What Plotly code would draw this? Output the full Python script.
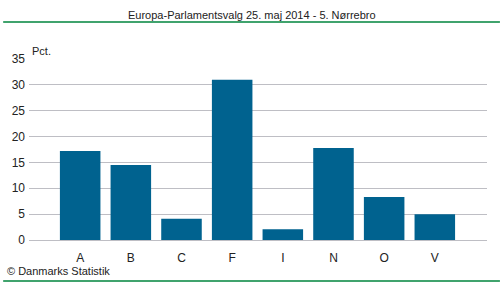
import plotly.graph_objects as go

categories = ["A", "B", "C", "F", "I", "N", "O", "V"]
values = [17.2, 14.5, 4.1, 31.0, 2.1, 17.8, 8.3, 5.0]
y_ticks = [0, 5, 10, 15, 20, 25, 30, 35]

title = "Europa-Parlamentsvalg 25. maj 2014 - 5. Nørrebro"
font = "Liberation Sans"
fsize = 11

fig = go.Figure(go.Bar(x=categories, y=values, marker_color="#00628F",
                       marker_line_width=0, width=0.8))

fig.update_layout(
    width=500, height=282,
    margin=dict(l=26, r=13, t=59, b=42),
    paper_bgcolor="white", plot_bgcolor="white",
    showlegend=False,
    font=dict(family=font, size=fsize, color="#222"),
    xaxis=dict(type="category", range=[-1.01, 8.03], showgrid=False,
               showline=False, ticks="", ticklabelstandoff=9,
               tickfont=dict(size=12, color="#222")),
    yaxis=dict(range=[0, 35], tickvals=y_ticks, showgrid=True,
               gridcolor="#BEBEC4", gridwidth=1, zeroline=True,
               zerolinecolor="#BEBEC4", zerolinewidth=1, ticks="",
               ticklabelstandoff=3,
               tickfont=dict(size=12, color="#222")),
)

plot_w = 500 - 26 - 13
plot_h = 282 - 59 - 42

def px(xp):
    return (xp - 26) / plot_w

def py(yp):
    return (282 - 42 - yp) / plot_h

fig.add_shape(type="line", xref="paper", yref="paper", x0=px(0), x1=px(500),
              y0=py(22), y1=py(22), line=dict(color="#00843D", width=1.5))
fig.add_shape(type="line", xref="paper", yref="paper", x0=px(0), x1=px(500),
              y0=py(281), y1=py(281), line=dict(color="#00843D", width=1.5))
fig.add_annotation(text=title, xref="paper", yref="paper", x=px(250), y=py(15),
                   showarrow=False, xanchor="center", yanchor="middle",
                   font=dict(size=fsize, color="#222", family=font))
fig.add_annotation(text="Pct.", xref="paper", yref="paper", x=px(27), y=py(51),
                   showarrow=False, xanchor="left", yanchor="middle",
                   font=dict(size=fsize, color="#222", family=font))
fig.add_annotation(text="© Danmarks Statistik", xref="paper", yref="paper",
                   x=px(2), y=py(271), showarrow=False, xanchor="left",
                   yanchor="middle", font=dict(size=fsize, color="#222", family=font))

fig.write_html("out.html")
